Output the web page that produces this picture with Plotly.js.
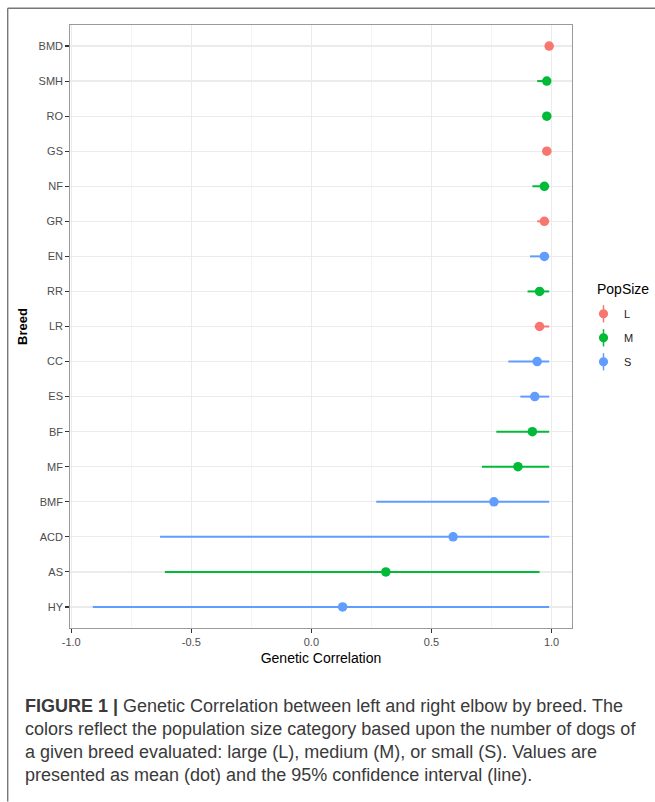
<!DOCTYPE html>
<html>
<head>
<meta charset="utf-8">
<script src="https://cdn.plot.ly/plotly-3.0.1.min.js"></script>
<style>html,body{margin:0;padding:0;background:#fff;}#chart{width:655px;height:802px;}</style>
</head>
<body>
<div id="chart"></div>
<script>
// ---- data (top to bottom as drawn) ----
const breeds   = ['BMD','SMH','RO','GS','NF','GR','EN','RR','LR','CC','ES','BF','MF','BMF','ACD','AS','HY'];
const popSize  = ['L','M','M','L','M','L','S','M','L','S','S','M','M','S','S','M','S'];
const meanCorr = [0.99,0.98,0.98,0.98,0.97,0.97,0.97,0.95,0.95,0.94,0.93,0.92,0.86,0.76,0.59,0.31,0.13];
const lowerCI  = [0.985,0.94,0.965,0.97,0.92,0.94,0.91,0.90,0.93,0.82,0.87,0.77,0.71,0.27,-0.63,-0.61,-0.91];
const upperCI  = [0.99,0.99,0.99,0.99,0.99,0.99,0.99,0.99,0.99,0.99,0.99,0.99,0.99,0.99,0.99,0.95,0.99];
const groups   = ['L','M','S'];
const groupColors = {L:'#F8766D', M:'#00BA38', S:'#619CFF'};
const xTickVals = [-1,-0.5,0,0.5,1];
const xTickText = ['-1.0','-0.5','0.0','0.5','1.0'];
const captionLines = [
  '<b>FIGURE 1 |</b> Genetic Correlation between left and right elbow by breed. The',
  'colors reflect the population size category based upon the number of dogs of',
  'a given breed evaluated: large (L), medium (M), or small (S). Values are',
  'presented as mean (dot) and the 95% confidence interval (line).'
];

// ---- geometry ----
const W = 655, H = 802;
const L = 69.8, R = 571.8, T = 25, B = 628.35;
const px2x = p => (p - L) / (R - L);
const py2y = p => (B - p) / (B - T);

const traces = groups.map(g => {
  const idx = breeds.map((b,i)=>i).filter(i => popSize[i] === g);
  return {
    type: 'scatter', mode: 'markers', name: g, showlegend: false,
    x: idx.map(i => meanCorr[i]),
    y: idx.map(i => breeds[i]),
    marker: {color: groupColors[g], size: 9.5, line: {width: 0}},
    error_x: {
      type: 'data', symmetric: false,
      array: idx.map(i => upperCI[i] - meanCorr[i]),
      arrayminus: idx.map(i => meanCorr[i] - lowerCI[i]),
      color: groupColors[g], thickness: 2, width: 0
    },
    hoverinfo: 'x+y'
  };
});

const shapes = [];
const annotations = [];
// figure frame
shapes.push({type:'line', xref:'paper', yref:'paper', x0:px2x(7.5), x1:px2x(7.5), y0:py2y(8.3), y1:py2y(802), line:{color:'#777', width:1.4}});
shapes.push({type:'line', xref:'paper', yref:'paper', x0:px2x(7.5), x1:px2x(655), y0:py2y(8.3), y1:py2y(8.3), line:{color:'#777', width:1.4}});

// legend
const legX = px2x(603.3);
const legY = [314, 338, 362];
annotations.push({xref:'paper', yref:'paper', x:px2x(595), y:py2y(289), xanchor:'left', yanchor:'middle',
  text:'PopSize', showarrow:false, font:{size:14, color:'#000'}});
groups.forEach((g,k) => {
  shapes.push({type:'line', xref:'paper', yref:'paper', x0:legX, x1:legX, ysizemode:'pixel', yanchor:py2y(legY[k]),
    y0:-8.6, y1:8.6, line:{color:groupColors[g], width:1.5}});
  shapes.push({type:'circle', xref:'paper', yref:'paper', xsizemode:'pixel', ysizemode:'pixel',
    xanchor:legX, yanchor:py2y(legY[k]), x0:-4.6, x1:4.6, y0:-4.6, y1:4.6,
    fillcolor:groupColors[g], line:{width:0}});
  annotations.push({xref:'paper', yref:'paper', x:px2x(622), y:py2y(legY[k]), xanchor:'left', yanchor:'middle',
    text:g, showarrow:false, font:{size:11, color:'#222'}});
});

// caption
const capY = [706.5, 729.5, 752.5, 775.5];
captionLines.forEach((t,k) => {
  annotations.push({xref:'paper', yref:'paper', x:px2x(22.5), y:py2y(capY[k]), xanchor:'left', yanchor:'middle',
    text:t, showarrow:false, align:'left', font:{size:18, color:'#3a3a3a', family:'Liberation Sans, Arial, sans-serif'}});
});

const layout = {
  width: W, height: H,
  margin: {l: L, r: W - R, t: T, b: H - B, pad: 0},
  paper_bgcolor: '#fff', plot_bgcolor: '#fff',
  font: {family: 'Liberation Sans, Arial, sans-serif', color: '#4D4D4D'},
  showlegend: false,
  xaxis: {
    range: [-1.005, 1.085], autorange: false, zeroline: false,
    tickvals: xTickVals, ticktext: xTickText,
    ticks: 'outside', ticklen: 3.5, tickwidth: 1.1, tickcolor: '#333',
    tickfont: {size: 11, color: '#4D4D4D'},
    showgrid: true, gridcolor: '#EBEBEB', gridwidth: 1.2,
    minor: {tickvals: [-0.75,-0.25,0.25,0.75], showgrid: true, gridcolor: '#EFEFEF', gridwidth: 0.7, ticks: ''},
    showline: true, mirror: true, linecolor: '#9a9a9a', linewidth: 1.3,
    title: {text: 'Genetic Correlation', font: {size: 14, color: '#000'}, standoff: 6},
    automargin: false, fixedrange: true
  },
  yaxis: {
    type: 'category', categoryorder: 'array', categoryarray: breeds.slice().reverse(),
    range: [-0.6, breeds.length - 1 + 0.6], autorange: false,
    ticks: 'outside', ticklen: 3.5, tickwidth: 1.1, tickcolor: '#333',
    tickfont: {size: 11, color: '#4D4D4D'},
    showgrid: true, gridcolor: '#EBEBEB', gridwidth: 1.2,
    showline: true, mirror: true, linecolor: '#9a9a9a', linewidth: 1.3,
    title: {text: '<b>Breed</b>', font: {size: 13, color: '#000'}, standoff: 8},
    automargin: false, fixedrange: true
  },
  shapes: shapes,
  annotations: annotations
};

Plotly.newPlot('chart', traces, layout, {staticPlot: true, displayModeBar: false});
</script>
</body>
</html>
